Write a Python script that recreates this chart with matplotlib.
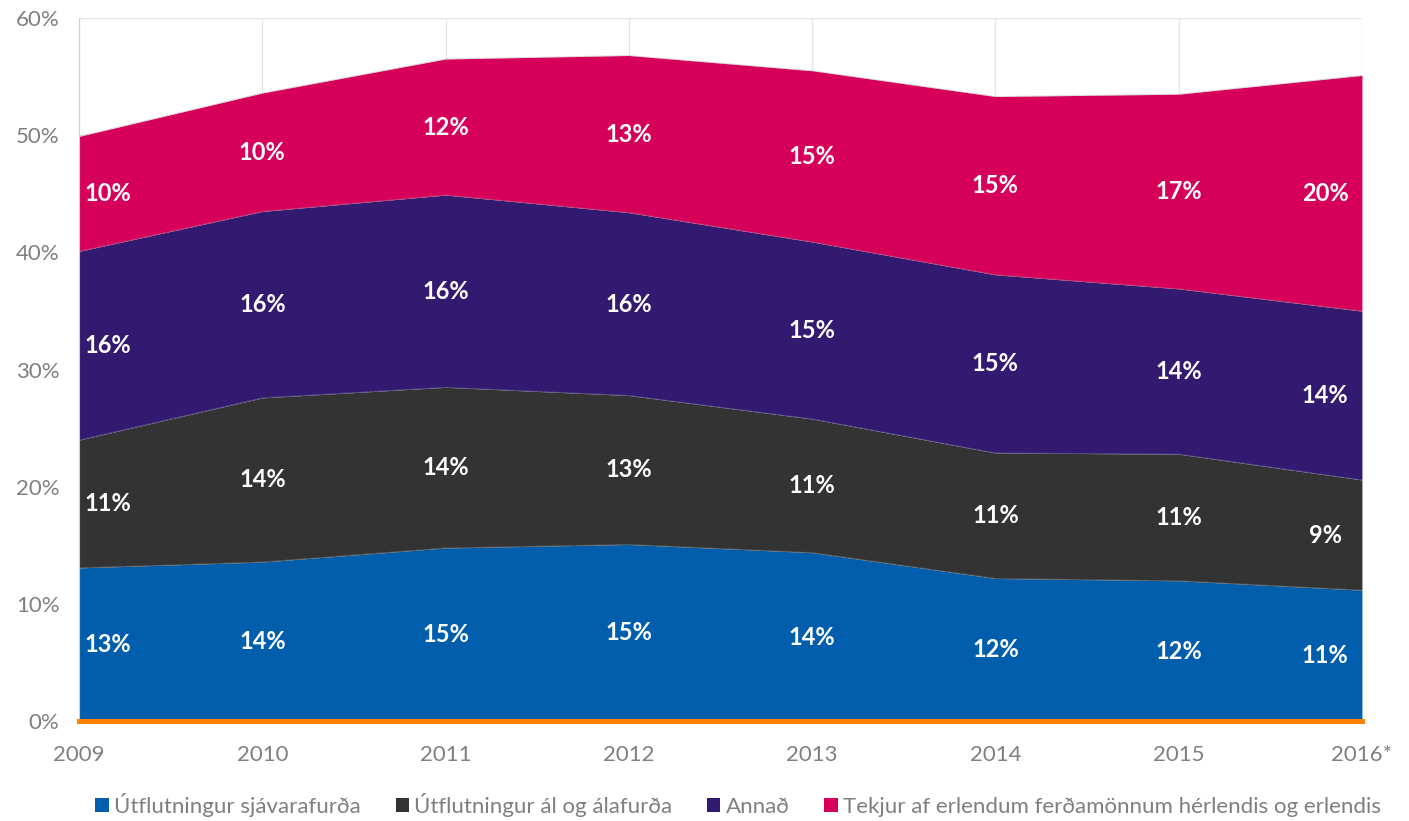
import matplotlib
matplotlib.use("Agg")
import matplotlib.pyplot as plt
from matplotlib.patches import Patch
import numpy as np

years = ["2009", "2010", "2011", "2012", "2013", "2014", "2015", "2016*"]
series_names = [
    "Útflutningur sjávarafurða",
    "Útflutningur ál og álafurða",
    "Annað",
    "Tekjur af erlendum ferðamönnum hérlendis og erlendis",
]
sjavarafurdir = [13.1, 13.6, 14.8, 15.1, 14.4, 12.2, 12.0, 11.2]
al = [10.9, 14.0, 13.7, 12.7, 11.4, 10.7, 10.8, 9.4]
annad = [16.1, 15.9, 16.4, 15.6, 15.1, 15.2, 14.1, 14.4]
ferdamenn = [9.8, 10.1, 11.6, 13.4, 14.6, 15.2, 16.6, 20.1]
y_ticks = [0, 10, 20, 30, 40, 50, 60]

colors = ["#005EAD", "#333333", "#321A71", "#D6005A"]
orange = "#FF7F00"
grey_txt = "#7F7F7F"

fig = plt.figure(figsize=(14.09, 8.21), dpi=100)
ax = fig.add_axes([0.0561, 0.1212, 0.9105, 0.8569])

data = np.array([sjavarafurdir, al, annad, ferdamenn])
x = np.arange(len(years))
bottom = np.zeros(len(years))
for i, vals in enumerate(data):
    ax.fill_between(x, bottom, bottom + vals, color=colors[i], linewidth=0, zorder=2)
    ax.plot(x, bottom + vals, color="#9a9a9a", lw=0.6, ls=(0, (2, 1)), zorder=3, alpha=0.6)
    for j, v in enumerate(vals):
        xo = x[j]
        if j == 0:
            xo += 0.155
        elif j == len(years) - 1:
            xo -= 0.2
        ax.text(xo, bottom[j] + v / 2, f"{v:.0f}%", color="white", fontsize=17,
                fontweight="bold", family="Lato", ha="center", va="center", zorder=4)
    bottom = bottom + vals

ax.axhline(0, color=orange, lw=3.6, zorder=5, clip_on=False)

ax.set_xlim(0, len(years) - 1)
ax.set_ylim(0, 60)
ax.set_xticks(x)
ax.set_xticklabels(years)
ax.set_yticks(y_ticks)
ax.set_yticklabels([f"{t}%" for t in y_ticks])
ax.grid(True, color="#E6E6E6", lw=1, zorder=0)
ax.set_axisbelow(True)
for s in ["top", "right", "bottom"]:
    ax.spines[s].set_visible(False)
ax.spines["left"].set_color("#D0D0D0")
ax.tick_params(axis="both", length=0, colors=grey_txt, labelsize=16)
ax.tick_params(axis="y", pad=14)
ax.tick_params(axis="x", pad=17)
for lab in ax.get_xticklabels() + ax.get_yticklabels():
    lab.set_family("Lato")

handles = [Patch(facecolor=c, edgecolor="none") for c in colors]
leg = fig.legend(handles, series_names, loc="center", bbox_to_anchor=(0.524, 0.0195),
                 ncol=4, frameon=False, handlelength=0.6, handleheight=0.6,
                 handletextpad=0.25, columnspacing=1.55,
                 prop={"family": "Lato", "size": 16})
for t in leg.get_texts():
    t.set_color(grey_txt)

fig.savefig("out.png", dpi=100)
